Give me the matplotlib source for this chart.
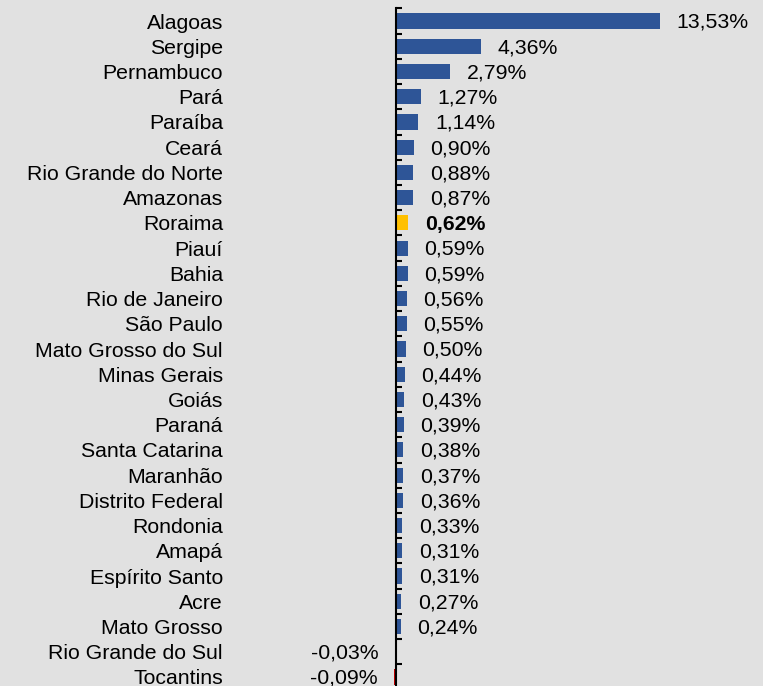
import numpy as np
import matplotlib.pyplot as plt

plt.rcParams['font.family'] = ['Liberation Sans', 'DejaVu Sans']

# Dados
estados = ['Alagoas', 'Sergipe', 'Pernambuco', 'Pará', 'Paraíba', 'Ceará',
           'Rio Grande do Norte', 'Amazonas', 'Roraima', 'Piauí', 'Bahia',
           'Rio de Janeiro', 'São Paulo', 'Mato Grosso do Sul', 'Minas Gerais',
           'Goiás', 'Paraná', 'Santa Catarina', 'Maranhão', 'Distrito Federal',
           'Rondonia', 'Amapá', 'Espírito Santo', 'Acre', 'Mato Grosso',
           'Rio Grande do Sul', 'Tocantins']
valores = [13.53, 4.36, 2.79, 1.27, 1.14, 0.90, 0.88, 0.87, 0.62, 0.59, 0.59,
           0.56, 0.55, 0.50, 0.44, 0.43, 0.39, 0.38, 0.37, 0.36, 0.33, 0.31,
           0.31, 0.27, 0.24, -0.03, -0.09]
destaque = 'Roraima'

azul = '#2E5597'
amarelo = '#FFC000'
vermelho = '#C00000'
fundo = '#E1E1E1'

fig = plt.figure(figsize=(7.63, 6.86), dpi=100, facecolor=fundo)
ax = fig.add_axes([300 / 763, 1 - 689.6 / 686, 463 / 763, 681.2 / 686])
ax.set_facecolor(fundo)

y = np.arange(len(estados))
cores = []
for e, v in zip(estados, valores):
    if e == destaque:
        cores.append(amarelo)
    elif v < 0:
        cores.append(vermelho)
    else:
        cores.append(azul)

ax.barh(y, valores, height=0.6, color=cores)

for yi, e, v in zip(y, estados, valores):
    txt = f'{v:.2f}'.replace('.', ',') + '%'
    peso = 'bold' if e == destaque else 'normal'
    if v >= 0:
        ax.annotate(txt, (v, yi), xytext=(12, -1), textcoords='offset points',
                    ha='left', va='center', fontsize=15.3, fontweight=peso)
    else:
        ax.annotate(txt, (v, yi), xytext=(-12, -1), textcoords='offset points',
                    ha='right', va='center', fontsize=15.3, fontweight=peso)

ax.set_xlim(-96 / 19.51, 367 / 19.51)
ax.set_ylim(len(estados) - 0.5, -0.5)

for s in ['top', 'right', 'bottom']:
    ax.spines[s].set_visible(False)
ax.spines['left'].set_position(('data', 0))
ax.spines['left'].set_linewidth(1.5)
ax.spines['left'].set_zorder(3)

ax.set_xticks([])
ax.set_yticks(y)
ax.set_yticklabels(estados, fontsize=15.3)
ax.set_yticks(np.arange(len(estados) + 1) - 0.5, minor=True)
ax.tick_params(axis='y', which='major', length=0, pad=124.6)
ax.tick_params(axis='y', which='minor', direction='in', length=4, width=1.5)

fig.savefig('out.png', dpi=100, facecolor=fundo)
